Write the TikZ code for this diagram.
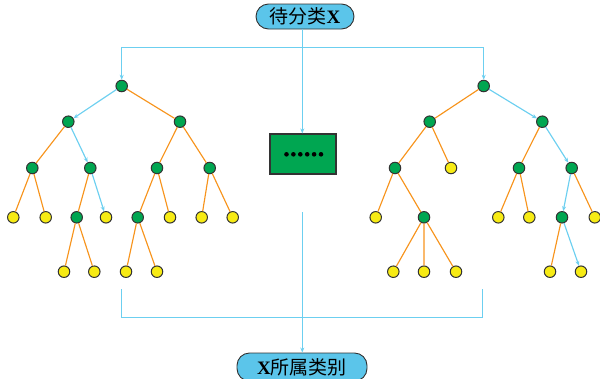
\documentclass[tikz,border=0pt]{standalone}
\usepackage{fontspec}
\newfontfamily\cjk{Noto Sans CJK SC}
\newfontfamily\latn{Liberation Serif}
\usetikzlibrary{arrows.meta}
\definecolor{skyline}{HTML}{6CCFF0}
\definecolor{skyfill}{HTML}{5BC5EA}
\definecolor{leafgreen}{HTML}{00A651}
\definecolor{leafyellow}{HTML}{F7EB14}
\definecolor{branch}{HTML}{F7941D}
\definecolor{rim}{HTML}{333333}
\tikzset{
  gnode/.style={circle,draw=rim,fill=leafgreen,line width=1pt,minimum size=11.5pt,inner sep=0pt},
  ynode/.style={circle,draw=rim,fill=leafyellow,line width=1pt,minimum size=11.5pt,inner sep=0pt},
  ob/.style={draw=branch,line width=1.15pt},
  bb/.style={draw=skyline,line width=1.15pt,-{Stealth[length=5pt,width=4pt]}},
  bl/.style={draw=skyline,line width=1.15pt},
  pill/.style={draw=rim,fill=skyfill,line width=0.9pt,rounded corners=12.5pt,inner sep=0pt,font=\fontsize{19}{19}\selectfont}
}
\begin{document}
\begin{tikzpicture}[x=1pt,y=-1pt]
\useasboundingbox (0,0) rectangle (600,378);

% input, output and the elided middle box
\node[pill,minimum width=98pt,minimum height=25pt] (T) at (305,16.5) {\cjk 待分类\latn\bfseries X};
\node[pill,minimum width=130pt,minimum height=28pt] (R) at (302,367) {{\latn\bfseries X}\cjk 所属类别};
\node[draw=rim,fill=leafgreen,line width=1.1pt,minimum width=66pt,minimum height=40pt,inner sep=0pt] (M) at (303,154) {};
\foreach \i in {0,...,5} \fill (286.5+6.9*\i,154.3) circle (2.3pt);

% left tree
\node[gnode] (A0) at (121.7,86) {};
\node[gnode] (A1) at (68.3,121.7) {};
\node[gnode] (A2) at (180,121.7) {};
\node[gnode] (A3) at (32.3,168) {};
\node[gnode] (A4) at (90.3,168) {};
\node[gnode] (A5) at (157,168) {};
\node[gnode] (A6) at (209.7,168) {};
\node[ynode] (A7) at (13.3,217.3) {};
\node[ynode] (A8) at (45.7,217.3) {};
\node[gnode] (A9) at (76.7,217.3) {};
\node[ynode] (A10) at (106,217.3) {};
\node[gnode] (A11) at (137.7,217.3) {};
\node[ynode] (A12) at (170,217.3) {};
\node[ynode] (A13) at (201.7,217.3) {};
\node[ynode] (A14) at (232.7,217.3) {};
\node[ynode] (A15) at (64,271.7) {};
\node[ynode] (A16) at (94.3,271.7) {};
\node[ynode] (A17) at (126,271.7) {};
\node[ynode] (A18) at (157,271.7) {};

% right tree
\node[gnode] (B0) at (483.7,86) {};
\node[gnode] (B1) at (429.7,121.7) {};
\node[gnode] (B2) at (542.3,121.7) {};
\node[gnode] (B3) at (395,168) {};
\node[ynode] (B4) at (451,168) {};
\node[gnode] (B5) at (519,168) {};
\node[gnode] (B6) at (571.7,168) {};
\node[ynode] (B7) at (375.7,217.3) {};
\node[gnode] (B8) at (424,217.3) {};
\node[ynode] (B9) at (498.3,217.3) {};
\node[ynode] (B10) at (529.3,217.3) {};
\node[gnode] (B11) at (562,217.3) {};
\node[ynode] (B12) at (594.8,217.3) {};
\node[ynode] (B13) at (393.3,271.7) {};
\node[ynode] (B14) at (424,271.7) {};
\node[ynode] (B15) at (456,271.7) {};
\node[ynode] (B16) at (550,271.7) {};
\node[ynode] (B17) at (581,271.7) {};

% branches of the left tree (blue = decision path)
\path[ob] (A0) -- (A2);
\path[ob] (A1) -- (A3);
\path[ob] (A2) -- (A5) (A2) -- (A6);
\path[ob] (A3) -- (A7) (A3) -- (A8);
\path[ob] (A4) -- (A9);
\path[ob] (A5) -- (A11) (A5) -- (A12);
\path[ob] (A6) -- (A13) (A6) -- (A14);
\path[ob] (A9) -- (A15) (A9) -- (A16);
\path[ob] (A11) -- (A17) (A11) -- (A18);
\draw[bb] (A0) -- (A1);
\draw[bb] (A1) -- (A4);
\draw[bb] (A4) -- (A10);

% branches of the right tree
\path[ob] (B0) -- (B1);
\path[ob] (B1) -- (B3) (B1) -- (B4);
\path[ob] (B2) -- (B5);
\path[ob] (B3) -- (B7) (B3) -- (B8);
\path[ob] (B5) -- (B9) (B5) -- (B10);
\path[ob] (B6) -- (B12);
\path[ob] (B8) -- (B13) (B8) -- (B14) (B8) -- (B15);
\path[ob] (B11) -- (B16);
\draw[bb] (B0) -- (B2);
\draw[bb] (B2) -- (B6);
\draw[bb] (B6) -- (B11);
\draw[bb] (B11) -- (B17);

% input routing
\coordinate (hc) at (302.3,47.3);
\draw[bl] (T.south -| hc) -- (hc);
\draw[bb] (hc) -- (hc |- M.north);
\draw[bb] (hc) -| (A0);
\draw[bb] (hc) -| (B0);

% output routing
\coordinate (ls) at (121.7,289);
\coordinate (rs) at (482.3,289);
\coordinate (lj) at (121.7,317.7);
\coordinate (rj) at (482.3,317.7);
\coordinate (cs) at (302.3,212);
\draw[bl] (ls) -- (lj) -- (rj) -- (rs);
\draw[bb] (cs) -- (cs |- R.north);
\end{tikzpicture}
\end{document}
